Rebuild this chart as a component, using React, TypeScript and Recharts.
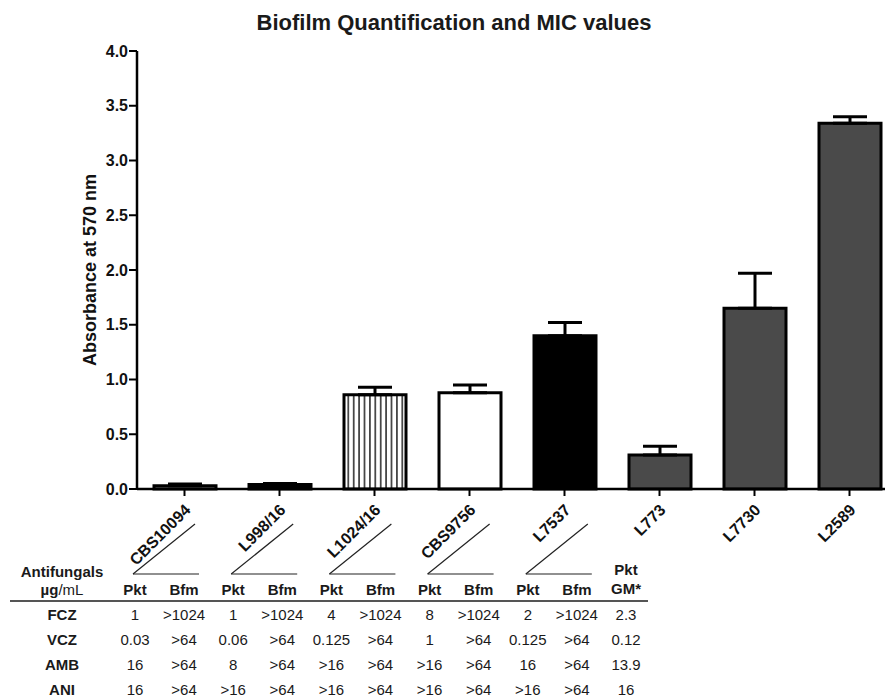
import React from 'react';
import { BarChart, Bar, XAxis, YAxis, Cell, ErrorBar } from 'recharts';

// strains and biofilm absorbance (mean + SD)
const strains = ['CBS10094', 'L998/16', 'L1024/16', 'CBS9756', 'L7537', 'L773', 'L7730', 'L2589'];
const absorbance = [0.03, 0.04, 0.86, 0.88, 1.4, 0.31, 1.65, 3.34];
const absorbanceSd = [0.015, 0.01, 0.07, 0.07, 0.12, 0.08, 0.32, 0.06];
const barFills = ['#ffffff', '#000000', 'url(#vstripes)', '#ffffff', '#000000', '#4a4a4a', '#4a4a4a', '#4a4a4a'];
const yTicks = [0, 0.5, 1, 1.5, 2, 2.5, 3, 3.5, 4];

// MIC table (Pkt / Bfm per strain, then Pkt GM)
const micStrains = ['CBS10094', 'L998/16', 'L1024/16', 'CBS9756', 'L7537'];
const drugs = ['FCZ', 'VCZ', 'AMB', 'ANI'];
const fczMic = ['1', '>1024', '1', '>1024', '4', '>1024', '8', '>1024', '2', '>1024', '2.3'];
const vczMic = ['0.03', '>64', '0.06', '>64', '0.125', '>64', '1', '>64', '0.125', '>64', '0.12'];
const ambMic = ['16', '>64', '8', '>64', '>16', '>64', '>16', '>64', '16', '>64', '13.9'];
const aniMic = ['16', '>64', '>16', '>64', '>16', '>64', '>16', '>64', '>16', '>64', '16'];
const micRows = [fczMic, vczMic, ambMic, aniMic];

const data = strains.map((s, i) => ({
  strain: s,
  value: absorbance[i],
  err: [0, absorbanceSd[i]],
}));

const FONT = '"Liberation Sans", Arial, Helvetica, sans-serif';

const StrainTick = (props: any) => {
  const { x, y, payload } = props;
  const px = x + 7;
  const py = y + 13;
  return (
    <text
      x={px}
      y={py}
      transform={`rotate(-45, ${px}, ${py})`}
      textAnchor="end"
      fontFamily={FONT}
      fontWeight="bold"
      fontSize={16}
      fill="#111"
    >
      {payload.value}
    </text>
  );
};

const colX = (i: number) => 135 + i * 49.1;

const MicTable = () => {
  const rowY = (r: number) => 620 + r * 25;
  return (
    <svg width={885} height={699} style={{ position: 'absolute', left: 0, top: 0, pointerEvents: 'none' }}>
      <g fontFamily={FONT} fill="#1a1a1a" fontSize={15} textAnchor="middle">
        <text x={62} y={577} fontWeight="bold">Antifungals</text>
        <text x={62} y={595}>
          <tspan fontWeight="bold">µg</tspan>/mL
        </text>
        {micStrains.map((s, g) => {
          const x0 = colX(2 * g) - 2;
          return (
            <g key={s} stroke="#222" strokeWidth={1.2}>
              <line x1={x0} y1={574} x2={x0 + 66} y2={574} />
              <line x1={x0} y1={574} x2={x0 + 62} y2={524} />
            </g>
          );
        })}
        {micRows[0].map((_, c) => (
          c < 10 ? (
            <text key={c} x={colX(c)} y={595} fontWeight="bold">{c % 2 === 0 ? 'Pkt' : 'Bfm'}</text>
          ) : (
            <g key={c} fontWeight="bold">
              <text x={colX(c)} y={575}>Pkt</text>
              <text x={colX(c)} y={594}>GM*</text>
            </g>
          )
        ))}
        <line x1={10} y1={601} x2={648} y2={601} stroke="#555" strokeWidth={2} />
        {drugs.map((d, r) => (
          <g key={d}>
            <text x={62} y={rowY(r)} fontWeight="bold">{d}</text>
            {micRows[r].map((v, c) => (
              <text key={c} x={colX(c)} y={rowY(r)}>{v}</text>
            ))}
          </g>
        ))}
      </g>
    </svg>
  );
};

export default function App() {
  return (
    <div style={{ position: 'absolute', left: 0, top: 0, width: 885, height: 699, overflow: 'hidden', background: '#fff' }}>
      <svg width={885} height={40} style={{ position: 'absolute', left: 0, top: 0 }}>
        <text x={454} y={30} textAnchor="middle" fontFamily={FONT} fontWeight="bold" fontSize={22} fill="#1a1a1a">
          Biofilm Quantification and MIC values
        </text>
      </svg>
      <BarChart
        width={905}
        height={699}
        data={data}
        margin={{ top: 51, right: 8, bottom: 110, left: 77 }}
        barSize={62}
      >
        <defs>
          <pattern id="vstripes" patternUnits="userSpaceOnUse" width={5.4} height={10}>
            <rect width={5.4} height={10} fill="#fff" />
            <line x1={2.7} y1={0} x2={2.7} y2={10} stroke="#000" strokeWidth={1.3} />
          </pattern>
        </defs>
        <YAxis
          width={60}
          domain={[0, 4]}
          ticks={yTicks}
          interval={0}
          tickFormatter={(v: number) => v.toFixed(1)}
          axisLine={{ stroke: '#000', strokeWidth: 2.5 }}
          tickLine={{ stroke: '#000', strokeWidth: 2 }}
          tickSize={8}
          tickMargin={1}
          tick={{ fontFamily: FONT, fontWeight: 'bold', fontSize: 16, fill: '#111' }}
          label={{
            value: 'Absorbance at 570 nm',
            angle: -90,
            position: 'insideLeft',
            offset: 13,
            style: { textAnchor: 'middle', fontFamily: FONT, fontWeight: 'bold', fontSize: 18, fill: '#111' },
          }}
        />
        <XAxis
          dataKey="strain"
          height={100}
          interval={0}
          axisLine={{ stroke: '#000', strokeWidth: 2.5 }}
          tickLine={{ stroke: '#000', strokeWidth: 2 }}
          tickSize={7}
          tick={<StrainTick />}
        />
        <Bar dataKey="value" stroke="#000" strokeWidth={3} isAnimationActive={false}>
          {data.map((d, i) => (
            <Cell key={d.strain} fill={barFills[i]} />
          ))}
          <ErrorBar dataKey="err" width={17} stroke="#000" strokeWidth={3} direction="y" isAnimationActive={false} />
        </Bar>
      </BarChart>
      <MicTable />
    </div>
  );
}
